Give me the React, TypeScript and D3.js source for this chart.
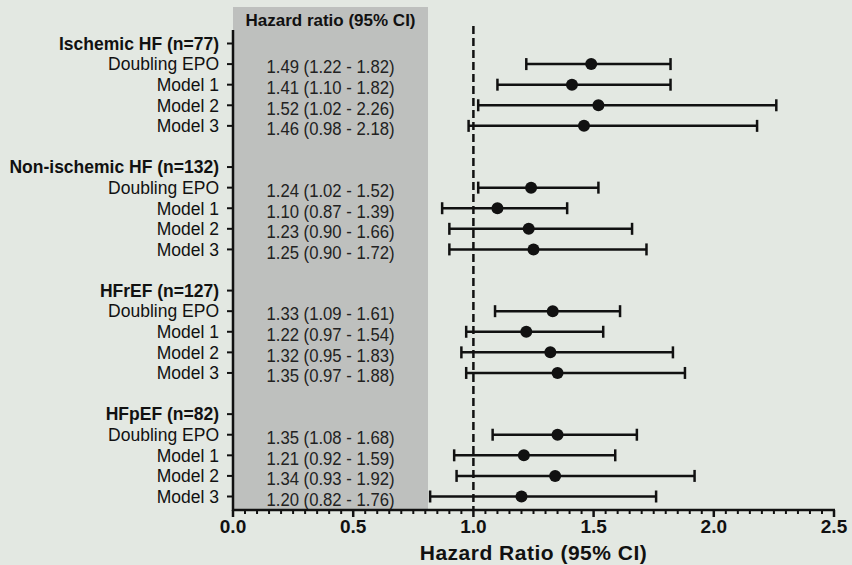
import React from "react";
import * as d3 from "d3";

// groups and their rows (label, HR, lower, upper)
const groups = ["Ischemic HF (n=77)", "Non-ischemic HF (n=132)", "HFrEF (n=127)", "HFpEF (n=82)"];
const models = ["Doubling EPO", "Model 1", "Model 2", "Model 3"];

const hr = [
  [1.49, 1.41, 1.52, 1.46],
  [1.24, 1.10, 1.23, 1.25],
  [1.33, 1.22, 1.32, 1.35],
  [1.35, 1.21, 1.34, 1.20],
];
const lower = [
  [1.22, 1.10, 1.02, 0.98],
  [1.02, 0.87, 0.90, 0.90],
  [1.09, 0.97, 0.95, 0.97],
  [1.08, 0.92, 0.93, 0.82],
];
const upper = [
  [1.82, 1.82, 2.26, 2.18],
  [1.52, 1.39, 1.66, 1.72],
  [1.61, 1.54, 1.83, 1.88],
  [1.68, 1.59, 1.92, 1.76],
];

const xTicks = [0, 0.5, 1.0, 1.5, 2.0, 2.5];

const W = 852;
const H = 565;
const FONT = "'Liberation Sans', Arial, Helvetica, sans-serif";

type Row = { label: string; header: boolean; g: number; m: number; idx: number };

export default function App() {
  // build row list: header + 4 models, then a blank row between groups
  const rows: Row[] = [];
  let idx = 0;
  groups.forEach((g, gi) => {
    rows.push({ label: g, header: true, g: gi, m: -1, idx: idx++ });
    models.forEach((m, mi) => rows.push({ label: m, header: false, g: gi, m: mi, idx: idx++ }));
    idx++; // gap
  });
  const lastIdx = rows[rows.length - 1].idx;

  const x = d3.scaleLinear().domain([0, 2.5]).range([233, 834]);
  const y = d3.scaleLinear().domain([0, lastIdx]).range([43.5, 496.5]);

  const axisY = 510;
  const axisTop = 30;
  const panelRight = 428;
  const panelCx = (x(0) + panelRight) / 2;

  const minor = d3.range(0, 2.5001, 0.05).filter((v) => Math.abs(v * 2 - Math.round(v * 2)) > 1e-6);

  return (
    <svg width={W} height={H} style={{ position: "absolute", left: 0, top: 0 }} fontFamily={FONT}>
      <rect width={W} height={H} fill="#e3e8e2" />
      <rect x={x(0)} y={7} width={panelRight - x(0)} height={axisY - 7} fill="#bec0be" />
      <text x={panelCx} y={26} textAnchor="middle" fontSize={17} fontWeight="bold" fill="#111">
        Hazard ratio (95% CI)
      </text>

      {/* reference line at HR = 1 */}
      <line x1={x(1)} x2={x(1)} y1={26} y2={axisY} stroke="#111" strokeWidth={2.5} strokeDasharray="8,4" />

      {/* y axis */}
      <line x1={x(0)} x2={x(0)} y1={axisTop} y2={axisY + 1} stroke="#111" strokeWidth={2.5} />
      {rows.map((r) => (
        <g key={r.idx}>
          <line x1={x(0) - 6} x2={x(0)} y1={y(r.idx)} y2={y(r.idx)} stroke="#111" strokeWidth={2} />
          <text
            x={x(0) - 14}
            y={y(r.idx)}
            dy="0.36em"
            textAnchor="end"
            fontSize={17.5}
            fontWeight={r.header ? "bold" : "normal"}
            fill="#111"
          >
            {r.label}
          </text>
        </g>
      ))}

      {/* HR text and error bars */}
      {rows
        .filter((r) => !r.header)
        .map((r) => {
          const v = hr[r.g][r.m];
          const lo = lower[r.g][r.m];
          const hi = upper[r.g][r.m];
          const cy = y(r.idx);
          return (
            <g key={"e" + r.idx}>
              <text
                x={panelCx}
                y={cy + 3}
                dy="0.36em"
                textAnchor="middle"
                fontSize={17.5}
                textLength={128}
                lengthAdjust="spacingAndGlyphs"
                fill="#222"
              >
                {`${v.toFixed(2)} (${lo.toFixed(2)} - ${hi.toFixed(2)})`}
              </text>
              <line x1={x(lo)} x2={x(hi)} y1={cy} y2={cy} stroke="#111" strokeWidth={2.5} />
              <line x1={x(lo)} x2={x(lo)} y1={cy - 6} y2={cy + 6} stroke="#111" strokeWidth={2.5} />
              <line x1={x(hi)} x2={x(hi)} y1={cy - 6} y2={cy + 6} stroke="#111" strokeWidth={2.5} />
              <circle cx={x(v)} cy={cy} r={6} fill="#111" />
            </g>
          );
        })}

      {/* x axis */}
      <line x1={x(0) - 1} x2={x(2.5) + 1} y1={axisY} y2={axisY} stroke="#111" strokeWidth={2.5} />
      {minor.map((v) => (
        <line key={"m" + v} x1={x(v)} x2={x(v)} y1={axisY} y2={axisY + 4} stroke="#111" strokeWidth={2} />
      ))}
      {xTicks.map((v) => (
        <g key={"t" + v}>
          <line x1={x(v)} x2={x(v)} y1={axisY} y2={axisY + 7} stroke="#111" strokeWidth={2.5} />
          <text x={x(v)} y={533} textAnchor="middle" fontSize={19} fontWeight="bold" fill="#111">
            {v.toFixed(1)}
          </text>
        </g>
      ))}
      <text
        x={(x(0) + x(2.5)) / 2}
        y={560}
        textAnchor="middle"
        fontSize={21}
        fontWeight="bold"
        letterSpacing={0.5}
        fill="#111"
      >
        Hazard Ratio (95% CI)
      </text>
    </svg>
  );
}
